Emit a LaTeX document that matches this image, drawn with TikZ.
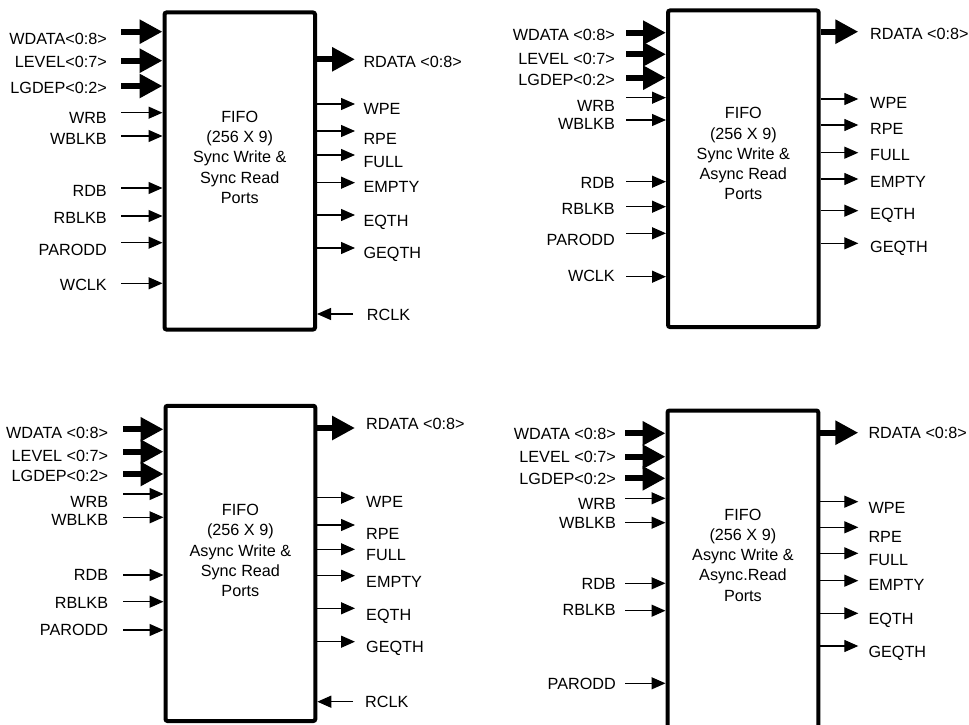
\documentclass[tikz,border=0pt]{standalone}
\usepackage{fontspec}
\setmainfont{Liberation Sans}
\usetikzlibrary{arrows.meta}
\tikzset{
  fifobox/.style={draw,line width=4pt,rounded corners=2pt,inner sep=0pt},
  busarrow/.style={line width=6pt,-{Triangle[length=23pt,width=23pt]}},
  wirearrow/.style={line width=1.3pt,-{Triangle[length=14pt,width=12pt]}},
  portlbl/.style={inner sep=0pt,text height=11.6pt,text depth=0pt,font=\fontsize{16.2}{18}\selectfont},
  fifotxt/.style={align=center,inner sep=0pt,font=\fontsize{16.2}{20.25}\selectfont}
}
\begin{document}
\begin{tikzpicture}[x=1pt,y=-1pt]
\useasboundingbox (0,0) rectangle (969,725);
\clip (0,0) rectangle (969,725);

% the four FIFO blocks
\node[fifobox,minimum width=150.5pt,minimum height=317pt] (fifoA) at (239.75,171) {};
\node[fifobox,minimum width=150.7pt,minimum height=316.5pt] (fifoB) at (743.35,168.75) {};
\node[fifobox,minimum width=149.8pt,minimum height=315.2pt] (fifoC) at (240.4,563.4) {};
\node[fifobox,minimum width=150.8pt,minimum height=318pt] (fifoD) at (742.9,569.5) {};

\node[fifotxt] (txtA) at (239.75,157.2) {FIFO\\(256 X 9)\\Sync Write \&\\Sync Read\\Ports};
\node[fifotxt] (txtB) at (743.35,153.8) {FIFO\\(256 X 9)\\Sync Write \&\\Async Read\\Ports};
\node[fifotxt] (txtC) at (240.4,550.5) {FIFO\\(256 X 9)\\Async Write \&\\Sync Read\\Ports};
\node[fifotxt] (txtD) at (742.9,555) {FIFO\\(256 X 9)\\Async Write \&\\Async.Read\\Ports};

% sync write / sync read
\foreach \ay/\ly/\txt/\kind [count=\i] in {
  31.7/39/{WDATA<0:8>}/busarrow, 60.7/62/{LEVEL<0:7>}/busarrow, 86/88/{LGDEP<0:2>}/busarrow,
  112.7/118/WRB/wirearrow, 136/139/WBLKB/wirearrow, 188/190.7/RDB/wirearrow,
  216/218/RBLKB/wirearrow, 242.7/250/PARODD/wirearrow, 283.3/285/WCLK/wirearrow}{
  \coordinate (inA\i) at (121,\ay);
  \draw[\kind] (inA\i) -- (inA\i -| fifoA.west);
  \node[portlbl,anchor=east] (inlblA\i) at (107,\ly) {\txt};
}
\foreach \ay/\ly/\txt/\kind [count=\i] in {
  59.3/62/{RDATA <0:8>}/busarrow, 104/109/WPE/wirearrow, 131/139/RPE/wirearrow,
  155/161.7/FULL/wirearrow, 182.7/187/EMPTY/wirearrow, 215/220.7/EQTH/wirearrow,
  248/253/GEQTH/wirearrow}{
  \coordinate (outA\i) at (355,\ay);
  \draw[\kind] (outA\i -| fifoA.east) -- (outA\i);
  \node[portlbl,anchor=west] (outlblA\i) at (363.3,\ly) {\txt};
}
\coordinate (rclkA) at (353,314);
\draw[wirearrow] (rclkA) -- (rclkA -| fifoA.east);
\node[portlbl,anchor=west] (rclklblA) at (366.7,315) {RCLK};

% sync write / async read
\foreach \ay/\ly/\txt/\kind [count=\i] in {
  32.7/35/{WDATA <0:8>}/busarrow, 54.3/58.3/{LEVEL <0:7>}/busarrow, 77.7/79.3/{LGDEP<0:2>}/busarrow,
  97.7/106/WRB/wirearrow, 120/124/WBLKB/wirearrow, 181.7/182.7/RDB/wirearrow,
  206.7/209/RBLKB/wirearrow, 233.3/240/PARODD/wirearrow, 276.7/276/WCLK/wirearrow}{
  \coordinate (inB\i) at (626,\ay);
  \draw[\kind] (inB\i) -- (inB\i -| fifoB.west);
  \node[portlbl,anchor=east] (inlblB\i) at (615,\ly) {\txt};
}
\foreach \ay/\ly/\txt/\kind [count=\i] in {
  31.7/33.3/{RDATA <0:8>}/busarrow, 99/102.7/WPE/wirearrow, 125/128.3/RPE/wirearrow,
  152.7/155/FULL/wirearrow, 179/181.7/EMPTY/wirearrow, 210.7/213.3/EQTH/wirearrow,
  243.3/246.7/GEQTH/wirearrow}{
  \coordinate (outB\i) at (858.3,\ay);
  \draw[\kind] (outB\i -| fifoB.east) -- (outB\i);
  \node[portlbl,anchor=west] (outlblB\i) at (870,\ly) {\txt};
}

% async write / sync read
\foreach \ay/\ly/\txt/\kind [count=\i] in {
  429.3/432.3/{WDATA <0:8>}/busarrow, 451.7/455.7/{LEVEL <0:7>}/busarrow, 474/476/{LGDEP<0:2>}/busarrow,
  494/501.7/WRB/wirearrow, 517.3/520/WBLKB/wirearrow, 575/575/RDB/wirearrow,
  601.7/602.3/RBLKB/wirearrow, 630/630/PARODD/wirearrow}{
  \coordinate (inC\i) at (123,\ay);
  \draw[\kind] (inC\i) -- (inC\i -| fifoC.west);
  \node[portlbl,anchor=east] (inlblC\i) at (108.3,\ly) {\txt};
}
\foreach \ay/\ly/\txt/\kind [count=\i] in {
  428/423.5/{RDATA <0:8>}/busarrow, 497.7/501.7/WPE/wirearrow, 525/533.3/RPE/wirearrow,
  549.3/555/FULL/wirearrow, 575.7/581.7/EMPTY/wirearrow, 608.3/615/EQTH/wirearrow,
  641.7/646.7/GEQTH/wirearrow}{
  \coordinate (outC\i) at (355,\ay);
  \draw[\kind] (outC\i -| fifoC.east) -- (outC\i);
  \node[portlbl,anchor=west] (outlblC\i) at (366,\ly) {\txt};
}
\coordinate (rclkC) at (353,701.7);
\draw[wirearrow] (rclkC) -- (rclkC -| fifoC.east);
\node[portlbl,anchor=west] (rclklblC) at (365,701.7) {RCLK};

% async write / async read
\foreach \ay/\ly/\txt/\kind [count=\i] in {
  433.3/433.3/{WDATA <0:8>}/busarrow, 456.7/456.7/{LEVEL <0:7>}/busarrow, 478.3/478.3/{LGDEP<0:2>}/busarrow,
  498.3/503.3/WRB/wirearrow, 522.7/522.7/WBLKB/wirearrow, 583.3/583.3/RDB/wirearrow,
  610.7/610/RBLKB/wirearrow, 683.3/683.3/PARODD/wirearrow}{
  \coordinate (inD\i) at (625,\ay);
  \draw[\kind] (inD\i) -- (inD\i -| fifoD.west);
  \node[portlbl,anchor=east] (inlblD\i) at (616,\ly) {\txt};
}
\foreach \ay/\ly/\txt/\kind [count=\i] in {
  432.7/432.7/{RDATA <0:8>}/busarrow, 501.7/507.3/WPE/wirearrow, 527.3/536.7/RPE/wirearrow,
  553.3/560/FULL/wirearrow, 580.7/585/EMPTY/wirearrow, 613.3/618.3/EQTH/wirearrow,
  646/651.7/GEQTH/wirearrow}{
  \coordinate (outD\i) at (858.3,\ay);
  \draw[\kind] (outD\i -| fifoD.east) -- (outD\i);
  \node[portlbl,anchor=west] (outlblD\i) at (868.3,\ly) {\txt};
}
\end{tikzpicture}
\end{document}
